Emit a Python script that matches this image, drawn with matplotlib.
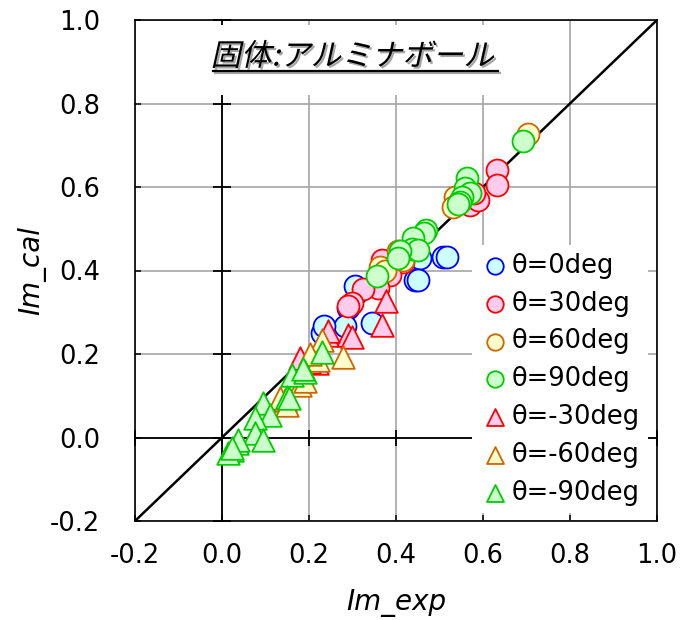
import numpy as np
import matplotlib
matplotlib.use("Agg")
import matplotlib.pyplot as plt
import matplotlib.patheffects as pe
from matplotlib.transforms import Affine2D
from matplotlib.patches import Rectangle
from matplotlib.lines import Line2D

plt.rcParams['font.family'] = ['DejaVu Sans']

# ---------------- data ----------------
title_text = "固体:アルミナボール"
x_label = "Im_exp"
y_label = "Im_cal"
axis_min, axis_max = -0.2, 1.0
ticks = [-0.2, 0.0, 0.2, 0.4, 0.6, 0.8, 1.0]
tick_labels = ["-0.2", "0.0", "0.2", "0.4", "0.6", "0.8", "1.0"]
line_1to1 = [-0.2, 1.0]

labels = ["θ=0deg", "θ=30deg", "θ=60deg", "θ=90deg",
          "θ=-30deg", "θ=-60deg", "θ=-90deg"]

t0_x = [0.509, 0.517, 0.455, 0.444, 0.451, 0.306, 0.296, 0.290, 0.344, 0.237, 0.283, 0.230, 0.235]
t0_y = [0.432, 0.432, 0.430, 0.377, 0.377, 0.362, 0.320, 0.310, 0.275, 0.262, 0.268, 0.250, 0.268]

t30_x = [0.632, 0.632, 0.570, 0.589, 0.580, 0.402, 0.416, 0.386, 0.367, 0.359, 0.324, 0.298, 0.290]
t30_y = [0.641, 0.605, 0.557, 0.569, 0.585, 0.433, 0.420, 0.389, 0.425, 0.357, 0.355, 0.321, 0.315]

t60_x = [0.704, 0.536, 0.532, 0.545, 0.363, 0.416, 0.405, 0.375]
t60_y = [0.727, 0.576, 0.552, 0.565, 0.408, 0.425, 0.447, 0.400]

t90_x = [0.693, 0.563, 0.559, 0.570, 0.551, 0.547, 0.543, 0.470, 0.465, 0.440, 0.436, 0.451, 0.409, 0.405, 0.356]
t90_y = [0.709, 0.621, 0.597, 0.585, 0.577, 0.565, 0.560, 0.497, 0.489, 0.477, 0.452, 0.449, 0.447, 0.430, 0.387]

tm30_x = [0.378, 0.367, 0.290, 0.298, 0.241, 0.218, 0.179, 0.244, 0.200]
tm30_y = [0.326, 0.270, 0.245, 0.240, 0.245, 0.178, 0.190, 0.255, 0.180]

tm60_x = [0.229, 0.279, 0.221, 0.202, 0.179, 0.190, 0.145, 0.133, 0.149]
tm60_y = [0.234, 0.194, 0.186, 0.200, 0.126, 0.135, 0.090, 0.095, 0.078]

tm90_x = [0.229, 0.160, 0.191, 0.187, 0.149, 0.154, 0.095, 0.110, 0.076, 0.076, 0.095, 0.034, 0.037, 0.022, 0.014, 0.022]
tm90_y = [0.205, 0.150, 0.158, 0.165, 0.098, 0.094, 0.083, 0.054, 0.046, 0.011, -0.006, -0.013, -0.006, -0.030, -0.037, -0.026]

series = [
    (t0_x, t0_y, 'o', '#CCFFFF', '#0000FF'),
    (t30_x, t30_y, 'o', '#FFCCEE', '#FF0000'),
    (t60_x, t60_y, 'o', '#FFFFCC', '#CC6600'),
    (t90_x, t90_y, 'o', '#CCFFCC', '#00CC00'),
    (tm30_x, tm30_y, '^', '#FFCCEE', '#FF0000'),
    (tm60_x, tm60_y, '^', '#FFFFCC', '#CC6600'),
    (tm90_x, tm90_y, '^', '#CCFFCC', '#00CC00'),
]


# ---------------- helpers ----------------
class Oblique(pe.AbstractPathEffect):
    """Slants glyph outlines (fake italic), optionally as a coloured shadow."""
    def __init__(self, shear=0.22, offset=(0, 0), color=None, alpha=None):
        super().__init__(offset)
        self.shear = shear
        self.color = color
        self.alpha = alpha

    def draw_path(self, renderer, gc, tpath, affine, rgbFace=None):
        sk = Affine2D(np.array([[1.0, self.shear, 0.0],
                                [0.0, 1.0, 0.0],
                                [0.0, 0.0, 1.0]]))
        aff = sk + affine + self._offset_transform(renderer)
        gc0 = renderer.new_gc()
        gc0.copy_properties(gc)
        if self.color is not None:
            rgbFace = matplotlib.colors.to_rgba(self.color)
            gc0.set_foreground(self.color)
        if self.alpha is not None:
            gc0.set_alpha(self.alpha)
        renderer.draw_path(gc0, tpath, aff, rgbFace)
        gc0.restore()


# ---------------- figure ----------------
W, H = 687, 620
fig = plt.figure(figsize=(W / 100, H / 100), dpi=100)
L, R, T, B = 135, 657, 20, 521
ax = fig.add_axes([L / W, 1 - B / H, (R - L) / W, (B - T) / H])

ax.set_xlim(axis_min, axis_max)
ax.set_ylim(axis_min, axis_max)
ax.set_xticks(ticks)
ax.set_yticks(ticks)
ax.set_xticklabels(tick_labels)
ax.set_yticklabels(tick_labels)
ax.grid(True, color='#a6a6a6', lw=1.2, zorder=0.5)
ax.set_axisbelow(True)
ax.tick_params(direction='in', length=4, width=1.1, labelsize=18.5,
               colors='black')
ax.tick_params(axis='x', pad=16)
ax.tick_params(axis='y', pad=25)
for sp in ax.spines.values():
    sp.set_linewidth(1.2)
    sp.set_color('black')
    sp.set_zorder(6)

# zero lines with crossing ticks
ax.axhline(0, color='black', lw=1.3, zorder=1)
ax.axvline(0, color='black', lw=1.3, zorder=1)
ax.plot([0] * len(ticks), ticks, ls='none', marker='_', ms=13.5, mew=1.3,
        color='black', zorder=1, clip_on=False)
ax.plot(ticks, [0] * len(ticks), ls='none', marker='|', ms=12, mew=1.3,
        color='black', zorder=1, clip_on=False)

# 1:1 line
ax.plot(line_1to1, line_1to1, color='black', lw=1.8, zorder=2)

handles = []
for (xs, ys, m, fc, ec), lab in zip(series, labels):
    size = 250 if m == 'o' else 265
    h = ax.scatter(xs, ys, s=size, marker=m, facecolor=fc, edgecolor=ec,
                   linewidths=1.3, zorder=4, label=lab)
    handles.append(h)

ax.set_xlabel(x_label, fontsize=20, style='italic', labelpad=14)
ax.set_ylabel(y_label, fontsize=20, style='italic', labelpad=3)

# legend
leg = ax.legend(handles=handles, loc='upper left',
                bbox_to_anchor=((472 - L) / (R - L), (B - 245) / (B - T)),
                borderaxespad=0, frameon=True, fancybox=False,
                facecolor='white', edgecolor='none', framealpha=1,
                fontsize=18.5, borderpad=0.3, handlelength=1.2,
                handletextpad=0.05, labelspacing=0.46, markerscale=0.75)
leg.set_zorder(5)

# title block (white backing, slanted shadowed text, underline)
ax.add_patch(Rectangle(((205 - L) / (R - L), (B - 95) / (B - T)),
                       305 / (R - L), 70 / (B - T), transform=ax.transAxes,
                       facecolor='white', edgecolor='none', zorder=3))
ax.text((352 - L) / (R - L), (B - 57) / (B - T), title_text,
        transform=ax.transAxes, ha='center', va='center', fontsize=22,
        family=['Noto Sans CJK JP', 'DejaVu Sans'], zorder=7,
        path_effects=[Oblique(0.22, offset=(1.4, -1.4), color='#808080', alpha=0.7),
                      Oblique(0.22)])
ul = Line2D([(213 - L) / (R - L), (498 - L) / (R - L)],
            [(B - 71) / (B - T)] * 2, transform=ax.transAxes,
            color='black', lw=1.6, zorder=7,
            path_effects=[pe.SimpleLineShadow(offset=(1.2, -1.2), shadow_color='#808080', alpha=0.7),
                          pe.Normal()])
ax.add_line(ul)

fig.savefig('out.png', dpi=100)
